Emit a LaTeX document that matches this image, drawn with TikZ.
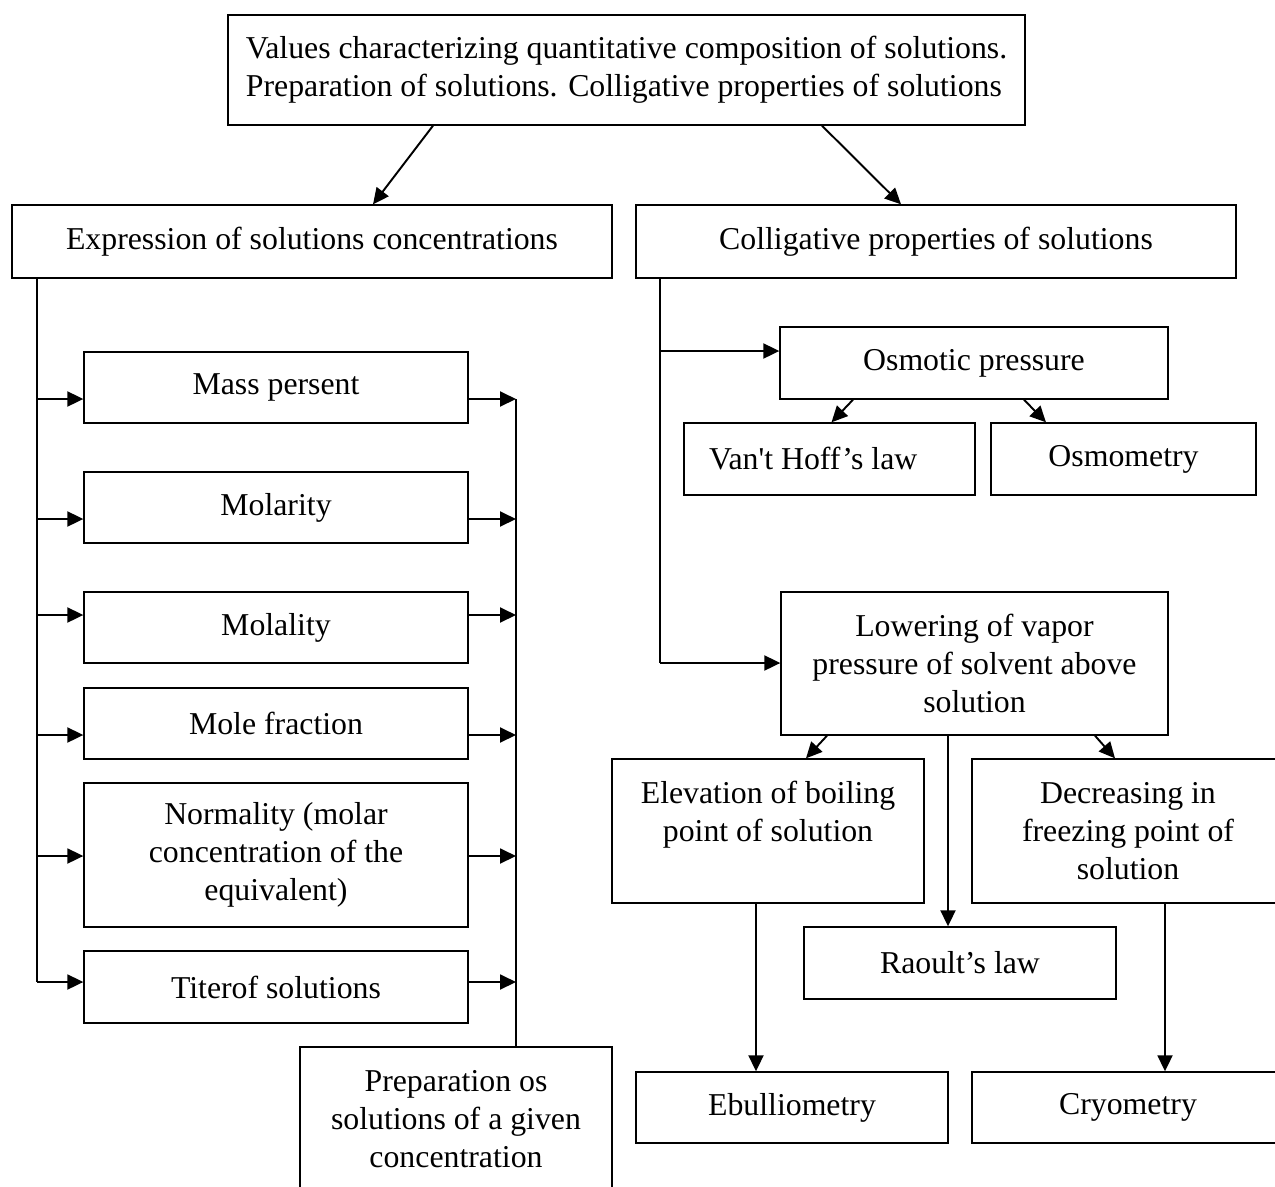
\documentclass[tikz,border=0pt]{standalone}
\usepackage{fontspec}
\setmainfont{Liberation Serif}
\usetikzlibrary{arrows.meta, positioning, calc}

\begin{document}
\begin{tikzpicture}[
        x=0.02cm, y=-0.02cm,
        box/.style={rectangle, draw, line width=0.8pt, align=center, inner sep=2pt,
            font=\fontsize{18.1}{21.6}\selectfont},
        flow/.style={-{Triangle[length=0.32cm, width=0.3cm]}, line width=1.1pt},
        link/.style={line width=1.1pt},
    ]
        \path[use as bounding box] (0,0) rectangle (1275,1187);
        \clip (0,0) rectangle (1275,1187);

        % Title
        \node[box, align=left, minimum width=15.94cm, minimum height=2.2cm] (title) at (626.5,70)
            {Values characterizing quantitative composition of solutions.\\Preparation of solutions. Colligative properties of solutions};

        % Main branches
        \node[box, minimum width=12cm, minimum height=1.46cm] (expr) at (312,241.5) {Expression of solutions concentrations};
        \node[box, minimum width=12cm, minimum height=1.46cm] (coll) at (936,241.5) {Colligative properties of solutions};

        % Concentration units
        \node[box, minimum width=7.68cm, minimum height=1.42cm] (mass) at (276,387.5) {Mass persent};
        \node[box, minimum width=7.68cm, minimum height=1.42cm] (molar) at (276,507.5) {Molarity};
        \node[box, minimum width=7.68cm, minimum height=1.42cm] (molal) at (276,627.5) {Molality};
        \node[box, minimum width=7.68cm, minimum height=1.42cm] (frac) at (276,723.5) {Mole fraction};
        \node[box, minimum width=7.68cm, minimum height=2.88cm] (norm) at (276,855) {Normality (molar\\concentration of the\\equivalent)};
        \node[box, minimum width=7.68cm, minimum height=1.44cm] (titer) at (276,987) {Titerof solutions};
        \node[box, minimum width=6.24cm, minimum height=2.9cm] (prep) at (456,1119.5) {Preparation os\\solutions of a given\\concentration};

        % Colligative properties
        \node[box, minimum width=7.76cm, minimum height=1.44cm] (osm) at (974,363) {Osmotic pressure};
        \node[box, minimum width=5.82cm, minimum height=1.44cm] (vant) at (829.5,459) {Van\textquotesingle t Hoff’s law\hspace{0.65cm}};
        \node[box, minimum width=5.3cm, minimum height=1.44cm] (osmom) at (1123.5,459) {Osmometry};
        \node[box, minimum width=7.74cm, minimum height=2.86cm] (lower) at (974.5,663.5) {Lowering of vapor\\pressure of solvent above\\solution};
        \node[box, minimum width=6.24cm, minimum height=2.88cm, text depth=0.8cm] (elev) at (768,831) {Elevation of boiling\\point of solution};
        \node[box, minimum width=6.24cm, minimum height=2.88cm] (decr) at (1128,831) {Decreasing in\\freezing point of\\solution};
        \node[box, minimum width=6.24cm, minimum height=1.44cm] (raoult) at (960,963) {Raoult’s law};
        \node[box, minimum width=6.24cm, minimum height=1.42cm] (ebul) at (792,1107.5) {Ebulliometry};
        \node[box, minimum width=6.24cm, minimum height=1.42cm] (cryo) at (1128,1107.5) {Cryometry};

        % Trunks
        \coordinate (trunkL) at (37,278);
        \coordinate (trunkR) at (516,399);
        \coordinate (trunkC) at (660,278);
        \draw[link] (trunkL) -- (trunkL |- 0,982);
        \draw[link] (trunkR) -- (trunkR |- prep.north);
        \draw[link] (trunkC) -- (trunkC |- 0,663);

        % Flows
        \draw[flow] ($(title.south)+(-193.5,0)$) -- ($(expr.north)+(61,0)$);
        \draw[flow] ($(title.south)+(195.5,0)$) -- ($(coll.north)+(-35,0)$);
        \foreach \n/\y in {mass/399, molar/519, molal/615, frac/735, norm/856, titer/982} {
            \draw[flow] (trunkL |- 0,\y) -- (\n.west |- 0,\y);
            \draw[flow] (\n.east |- 0,\y) -- (trunkR |- 0,\y);
        }
        \draw[flow] (trunkC |- 0,351) -- (osm.west |- 0,351);
        \draw[flow] (trunkC |- 0,663) -- (lower.west |- 0,663);
        \draw[flow] ($(osm.south)+(-121,0)$) -- ($(vant.north)+(2,0)$);
        \draw[flow] ($(osm.south)+(50,0)$) -- ($(osmom.north)+(-77.5,0)$);
        \draw[flow] ($(lower.south)+(-147.5,0)$) -- ($(elev.north)+(38,0)$);
        \draw[flow] ($(lower.south)+(120.5,0)$) -- ($(decr.north)+(-13,0)$);
        \draw[flow] ($(lower.south)+(-26.5,0)$) coordinate (r) -- (r |- raoult.north);
        \draw[flow] ($(elev.south)+(-12,0)$) coordinate (e) -- (e |- ebul.north);
        \draw[flow] ($(decr.south)+(37,0)$) coordinate (d) -- (d |- cryo.north);
    \end{tikzpicture}
\end{document}
